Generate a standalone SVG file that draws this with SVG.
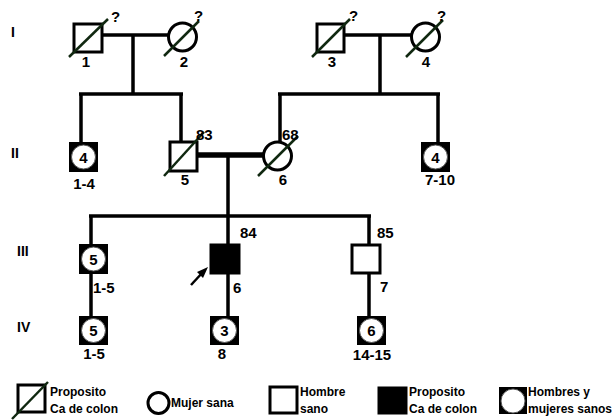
<svg xmlns="http://www.w3.org/2000/svg" width="616" height="420" viewBox="0 0 616 420">
<style>
  .bg{fill:#fff}
  .ln{stroke:#000;stroke-width:3.5;fill:none}
  .thick{stroke:#000;stroke-width:5.5;fill:none}
  .sym{fill:#fff;stroke:#000;stroke-width:3}
  .aff{fill:#000;stroke:#000;stroke-width:3}
  .grp{fill:#000;stroke:#000;stroke-width:2}
  .inner{fill:#fff;stroke:#555;stroke-width:1}
  .dead{stroke:#102810;stroke-width:2.5}
  .t{font-family:"Liberation Sans",Arial,sans-serif;font-weight:bold;font-size:15px;fill:#000}
  .n{font-family:"Liberation Sans",Arial,sans-serif;font-weight:bold;font-size:15px;fill:#000;text-anchor:middle}
  .gen{font-family:"Liberation Sans",Arial,sans-serif;font-weight:bold;font-size:14px;fill:#000}
  .lg{font-family:"Liberation Sans",Arial,sans-serif;font-weight:bold;font-size:12px;fill:#000}
</style>
<rect class="bg" x="0" y="0" width="616" height="420"/>

<g id="gen-labels">
  <text class="gen" x="11" y="37">I</text>
  <text class="gen" x="11" y="158">II</text>
  <text class="gen" x="17" y="256">III</text>
  <text class="gen" x="17" y="332">IV</text>
</g>

<g id="connectors">
  <line class="ln" x1="102" y1="35" x2="168" y2="35"/>
  <line class="ln" x1="133" y1="35" x2="133" y2="94"/>
  <line class="ln" x1="79" y1="94" x2="183" y2="94"/>
  <line class="ln" x1="81" y1="94" x2="81" y2="142"/>
  <line class="ln" x1="181" y1="94" x2="181" y2="142"/>
  <line class="ln" x1="344" y1="35" x2="411" y2="35"/>
  <line class="ln" x1="380" y1="35" x2="380" y2="94"/>
  <line class="ln" x1="278" y1="94" x2="440" y2="94"/>
  <line class="ln" x1="280" y1="94" x2="280" y2="142"/>
  <line class="ln" x1="438" y1="94" x2="438" y2="142"/>
  <line class="thick" x1="197" y1="155" x2="263" y2="155"/>
  <line class="ln" x1="228" y1="155" x2="228" y2="216"/>
  <line class="ln" x1="89" y1="216" x2="371" y2="216"/>
  <line class="ln" x1="91" y1="216" x2="91" y2="316"/>
  <line class="ln" x1="228" y1="216" x2="228" y2="316"/>
  <line class="ln" x1="369" y1="216" x2="369" y2="316"/>
</g>

<g id="I-1">
  <rect class="sym" x="74" y="24" width="28" height="28"/>
  <line class="dead" x1="69" y1="57" x2="108" y2="19"/>
  <text class="t" x="111" y="22">?</text>
  <text class="n" x="86" y="67">1</text>
</g>
<g id="I-2">
  <circle class="sym" cx="182.5" cy="37" r="14"/>
  <line class="dead" x1="164" y1="56" x2="199" y2="21"/>
  <text class="t" x="194" y="21">?</text>
  <text class="n" x="184" y="67">2</text>
</g>
<g id="I-3">
  <rect class="sym" x="317" y="24" width="27" height="28"/>
  <line class="dead" x1="312" y1="57" x2="350" y2="19"/>
  <text class="t" x="349" y="21">?</text>
  <text class="n" x="332" y="67">3</text>
</g>
<g id="I-4">
  <circle class="sym" cx="425.5" cy="37" r="14"/>
  <line class="dead" x1="406" y1="57" x2="443" y2="20"/>
  <text class="t" x="437" y="21">?</text>
  <text class="n" x="426" y="67">4</text>
</g>

<g id="II-1-4">
  <rect class="grp" x="70" y="143" width="27" height="28"/>
  <circle class="inner" cx="83.5" cy="157" r="12"/>
  <text class="n" x="83.5" y="163">4</text>
  <text class="n" x="84" y="189">1-4</text>
</g>
<g id="II-5">
  <rect class="sym" x="170" y="142" width="27" height="29"/>
  <line class="dead" x1="164" y1="176" x2="204" y2="132"/>
  <text class="t" x="196" y="140">83</text>
  <text class="n" x="185" y="185">5</text>
</g>
<g id="II-6">
  <circle class="sym" cx="277.5" cy="156" r="14"/>
  <line class="dead" x1="258" y1="176" x2="298" y2="136"/>
  <text class="t" x="282" y="140">68</text>
  <text class="n" x="283" y="185">6</text>
</g>
<g id="II-7-10">
  <rect class="grp" x="422" y="143" width="27" height="28"/>
  <circle class="inner" cx="435.5" cy="157" r="12"/>
  <text class="n" x="435.5" y="163">4</text>
  <text class="n" x="440" y="185">7-10</text>
</g>

<g id="III-1-5">
  <rect class="grp" x="80" y="245" width="27" height="28"/>
  <circle class="inner" cx="93.5" cy="259" r="12"/>
  <text class="n" x="93.5" y="265">5</text>
  <text class="t" x="93" y="293">1-5</text>
</g>
<g id="III-6">
  <rect class="aff" x="211" y="245" width="28" height="28"/>
  <text class="t" x="240" y="238">84</text>
  <text class="t" x="233" y="293">6</text>
  <line x1="191" y1="285" x2="203" y2="272" stroke="#000" stroke-width="2.5"/>
  <polygon points="208,267 197,272 203,278" fill="#000"/>
</g>
<g id="III-7">
  <rect class="sym" x="352" y="245" width="28" height="28"/>
  <text class="t" x="377" y="238">85</text>
  <text class="t" x="380" y="292">7</text>
</g>

<g id="IV-1-5">
  <rect class="grp" x="80" y="317" width="27" height="27"/>
  <circle class="inner" cx="93.5" cy="330.5" r="12"/>
  <text class="n" x="93.5" y="336">5</text>
  <text class="n" x="94" y="359">1-5</text>
</g>
<g id="IV-8">
  <rect class="grp" x="211" y="317" width="27" height="27"/>
  <circle class="inner" cx="224.5" cy="330.5" r="12"/>
  <text class="n" x="224.5" y="336">3</text>
  <text class="n" x="222" y="359">8</text>
</g>
<g id="IV-14-15">
  <rect class="grp" x="358" y="317" width="27" height="27"/>
  <circle class="inner" cx="371.5" cy="330.5" r="12"/>
  <text class="n" x="371.5" y="336">6</text>
  <text class="n" x="372" y="360">14-15</text>
</g>

<g id="legend">
  <rect class="sym" x="18" y="385" width="27" height="27"/>
  <line class="dead" x1="12" y1="419" x2="48" y2="382"/>
  <text class="lg" x="50" y="396">Proposito</text>
  <text class="lg" x="50" y="413">Ca de colon</text>
  <circle class="sym" cx="158.5" cy="403" r="10.5" stroke-width="2.5"/>
  <text class="lg" x="171" y="407">Mujer sana</text>
  <rect class="sym" x="270" y="387" width="27" height="26"/>
  <text class="lg" x="300" y="396">Hombre</text>
  <text class="lg" x="300" y="413">sano</text>
  <rect class="aff" x="379" y="388" width="27" height="25"/>
  <text class="lg" x="409" y="396">Proposito</text>
  <text class="lg" x="409" y="413">Ca de colon</text>
  <rect class="grp" x="500" y="388" width="26" height="25"/>
  <circle class="inner" cx="513" cy="401" r="12"/>
  <text class="lg" x="528" y="396">Hombres y</text>
  <text class="lg" x="528" y="413">mujeres sanos</text>
</g>
</svg>
